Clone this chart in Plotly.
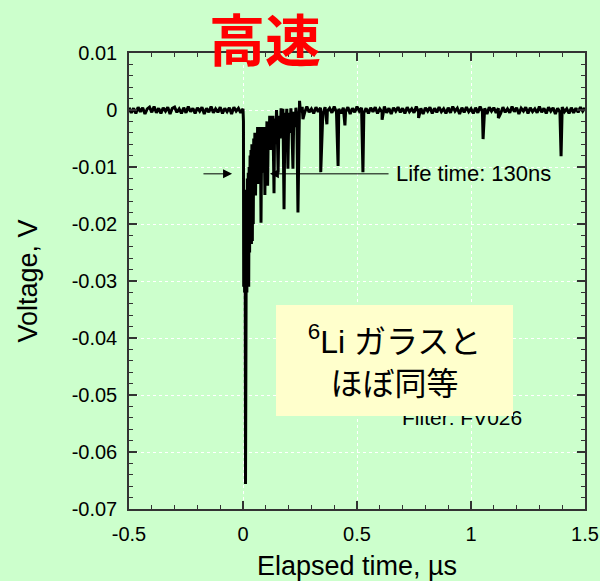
import numpy as np
import plotly.graph_objects as go

# ---------------- data ----------------
# baseline noise before the pulse (t = -0.50 ... -0.01 us, step 0.01)
pre_v = [0.0004, -0.0005, 0.0003, -0.0006, 0.0005, -0.0003, 0.0004, -0.0007, 0.0002, 0.0005,
         -0.0004, 0.0006, -0.0005, 0.0003, -0.0006, 0.0004, -0.0002, 0.0005, -0.0007, 0.0003,
         0.0005, -0.0004, 0.0002, -0.0006, 0.0004, -0.0005, 0.0006, -0.0003, 0.0003, -0.0006,
         0.0004, -0.0002, 0.0005, -0.0007, 0.0003, -0.0004, 0.0006, -0.0005, 0.0002, -0.0004,
         0.0005, -0.0006, 0.0003, -0.0003, 0.0004, -0.0007, 0.0005, -0.0002, 0.0003, -0.0005]
pre_t = np.round(np.arange(-0.50, -0.005, 0.01), 3)

# dense pulse region
burst_t = [0.000, 0.002, 0.003, 0.005, 0.007, 0.009, 0.011, 0.013, 0.015, 0.017,
           0.019, 0.021, 0.023, 0.025, 0.027, 0.029, 0.031, 0.033, 0.035, 0.037,
           0.039, 0.041, 0.043, 0.045, 0.047, 0.049, 0.052, 0.055, 0.058, 0.061,
           0.064, 0.067, 0.070, 0.073, 0.076, 0.079, 0.082, 0.085, 0.088, 0.091,
           0.093, 0.096, 0.099, 0.102, 0.105, 0.108, 0.111, 0.114, 0.117, 0.120,
           0.123, 0.127, 0.131, 0.136, 0.139, 0.143, 0.147, 0.150, 0.154, 0.158,
           0.163, 0.167, 0.171, 0.175, 0.180, 0.184, 0.188, 0.192, 0.197, 0.201,
           0.206, 0.210, 0.214, 0.219, 0.223, 0.228, 0.232, 0.236, 0.241, 0.245,
           0.248, 0.252, 0.256]
burst_v = [0.0002, -0.0020, -0.0310, -0.0150, -0.0320, -0.0180, -0.0656, -0.0300, -0.0140, -0.0320,
           -0.0120, -0.0300, -0.0110, -0.0310, -0.0100, -0.0250, -0.0080, -0.0235, -0.0070, -0.0235,
           -0.0060, -0.0230, -0.0060, -0.0200, -0.0050, -0.0140, -0.0040, -0.0150, -0.0040, -0.0120,
           -0.0030, -0.0130, -0.0040, -0.0100, -0.0030, -0.0198, -0.0040, -0.0110, -0.0030, -0.0090,
           -0.0030, -0.0149, -0.0030, -0.0080, -0.0020, -0.0133, -0.0030, -0.0070, -0.0010, -0.0060,
           -0.0010, -0.0070, -0.0010, -0.0146, -0.0015, -0.0060, 0.0000, -0.0030, -0.0110, -0.0010,
           -0.0050, 0.0003, -0.0030, 0.0002, -0.0174, -0.0005, -0.0030, 0.0002, -0.0103, -0.0005,
           -0.0040, 0.0003, -0.0020, -0.0103, -0.0003, -0.0030, 0.0004, -0.0010, -0.0180, -0.0005,
           0.0016, -0.0004, 0.0003]

# baseline noise after the pulse (t = 0.26 ... 1.50 us, step 0.01)
post_v = [0.0003, -0.0005, 0.0006, -0.0004, 0.0002, -0.0006, 0.0005, -0.0003, 0.0004, -0.0007,
          0.0005, -0.0002, 0.0003, -0.0005, 0.0006, -0.0004, 0.0002, -0.0006, 0.0004, -0.0003,
          0.0005, -0.0007, 0.0003, -0.0004, 0.0006, -0.0002, 0.0004, -0.0005, 0.0003, -0.0006,
          0.0004, -0.0003, 0.0005, -0.0006, 0.0002, -0.0004, 0.0006, -0.0005, 0.0003, -0.0007,
          0.0004, -0.0002, 0.0005, -0.0004, 0.0003, -0.0006, 0.0005, -0.0003, 0.0002, -0.0005,
          0.0006, -0.0004, 0.0003, -0.0007, 0.0004, -0.0002, 0.0005, -0.0006, 0.0003, -0.0004,
          0.0005, -0.0003, 0.0002, -0.0006, 0.0004, -0.0005, 0.0006, -0.0002, 0.0003, -0.0007,
          0.0004, -0.0004, 0.0005, -0.0003, 0.0002, -0.0006, 0.0004, -0.0005, 0.0006, -0.0003,
          0.0003, -0.0007, 0.0005, -0.0002, 0.0004, -0.0005, 0.0003, -0.0006, 0.0005, -0.0004,
          0.0002, -0.0005, 0.0006, -0.0003, 0.0004, -0.0007, 0.0003, -0.0002, 0.0005, -0.0006,
          0.0004, -0.0003, 0.0002, -0.0005, 0.0006, -0.0004, 0.0003, -0.0006, 0.0005, -0.0002,
          0.0004, -0.0007, 0.0003, -0.0004, 0.0005, -0.0003, 0.0002, -0.0006, 0.0004, -0.0005,
          0.0003, -0.0004, 0.0005, -0.0002, 0.0004]
post_t = np.round(np.arange(0.26, 1.505, 0.01), 3)

# isolated later pulses
spike_t = [0.263, 0.341, 0.368, 0.417, 0.447, 0.526, 0.61, 0.77, 1.053, 1.12, 1.395]
spike_v = [-0.0016, -0.0109, -0.0025, -0.0098, -0.0027, -0.0109, -0.0017, -0.0014, -0.0051, -0.0014, -0.0081]

x_tickvals = [-0.5, 0, 0.5, 1, 1.5]
x_ticktext = ["-0.5", "0", "0.5", "1", "1.5"]
y_tickvals = [0.01, 0, -0.01, -0.02, -0.03, -0.04, -0.05, -0.06, -0.07]
y_ticktext = ["0.01", "0", "-0.01", "-0.02", "-0.03", "-0.04", "-0.05", "-0.06", "-0.07"]

# ---------------- build trace ----------------
t_all = np.concatenate([pre_t, burst_t, post_t, spike_t])
v_all = np.concatenate([pre_v, burst_v, post_v, spike_v])
order = np.argsort(t_all, kind="stable")
t_all = t_all[order]
v_all = v_all[order]

BG = "#ccffcc"
AX = "#333333"
FONT = "Liberation Sans, Arial, sans-serif"

fig = go.Figure()
fig.add_trace(go.Scatter(x=t_all, y=v_all, mode="lines",
                         line=dict(color="black", width=3),
                         showlegend=False, hoverinfo="skip"))

axis_common = dict(
    showline=True, linecolor=AX, linewidth=1.5, mirror="ticks",
    ticks="inside", ticklen=8, tickwidth=1.5, tickcolor=AX,
    showgrid=True, gridcolor="white", griddash="dot", gridwidth=1,
    zeroline=False, ticklabelstandoff=6, automargin=False,
    tickfont=dict(family=FONT, size=20, color="black"),
)

fig.update_layout(
    width=600, height=581,
    margin=dict(l=129, r=15, t=53, b=72),
    paper_bgcolor=BG, plot_bgcolor=BG,
    font=dict(family=FONT, color="black"),
    xaxis=dict(range=[-0.5, 1.5], tickvals=x_tickvals, ticktext=x_ticktext,
               minor=dict(dtick=0.1, tick0=-0.5, ticks="inside", ticklen=4,
                          tickcolor=AX, tickwidth=1.2, showgrid=False),
               title=dict(text="Elapsed time, µs", font=dict(family=FONT, size=27), standoff=18),
               **axis_common),
    yaxis=dict(range=[-0.07, 0.01], tickvals=y_tickvals, ticktext=y_ticktext,
               minor=dict(dtick=0.002, tick0=0, ticks="inside", ticklen=4,
                          tickcolor=AX, tickwidth=1.2, showgrid=False),
               title=dict(text="Voltage, V", font=dict(family=FONT, size=27), standoff=26),
               **axis_common),
)

annotations = [
    # title
    dict(text="<b>高速</b>", xref="paper", yref="paper", x=0.298, y=1.036,
         xanchor="center", yanchor="middle", showarrow=False,
         font=dict(family="Noto Sans CJK JP", size=56, color="#ff0000")),
    # left arrow
    dict(x=-0.048, y=-0.0112, ax=-0.18, ay=-0.0112, xref="x", yref="y",
         axref="x", ayref="y", text="", showarrow=True, arrowhead=2,
         arrowsize=1.8, arrowwidth=1, arrowcolor="black"),
    # right arrow from label
    dict(x=0.118, y=-0.0112, ax=0.645, ay=-0.0112, xref="x", yref="y",
         axref="x", ayref="y", text="", showarrow=True, arrowhead=2,
         arrowsize=1.8, arrowwidth=1, arrowcolor="black"),
    dict(text="Life time: 130ns", x=0.663, y=-0.0112, xref="x", yref="y",
         xanchor="left", yanchor="middle", showarrow=False,
         font=dict(family=FONT, size=22, color="black")),
    # filter label (partly hidden by the box)
    dict(text="Filter: FV026", x=0.689, y=-0.0539, xref="x", yref="y",
         xanchor="left", yanchor="middle", showarrow=False,
         font=dict(family=FONT, size=21, color="black")),
    # yellow box
    dict(text="<sup>6</sup>Li ガラスと<br>ほぼ同等", x=0.6645, y=-0.04386,
         xref="x", yref="y", xanchor="center", yanchor="middle",
         showarrow=False, width=237, height=111, bgcolor="#ffffcc",
         borderpad=0, borderwidth=0, align="center",
         font=dict(family="Liberation Sans, Noto Sans CJK JP", size=32, color="black")),
]
fig.update_layout(annotations=annotations)

fig.write_html("out.html", config={"displayModeBar": False},
               post_script="document.body.style.margin='0';document.body.style.padding='0';")
